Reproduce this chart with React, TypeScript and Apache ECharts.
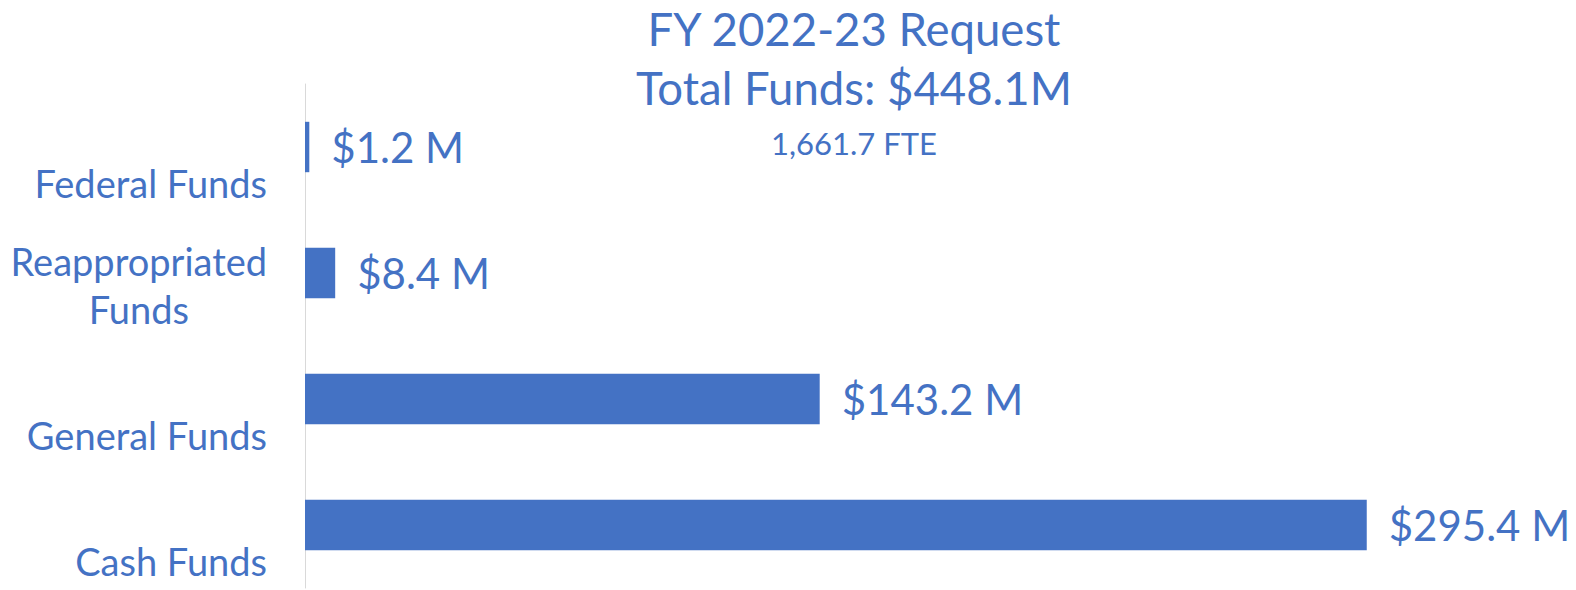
import React, { useEffect, useRef } from "react";
import * as echarts from "echarts";

const categories = ["Federal Funds", "Reappropriated Funds", "General Funds", "Cash Funds"];
const values = [1.2, 8.4, 143.2, 295.4];
const titleLines = ["FY 2022-23 Request", "Total Funds: $448.1M"];
const subtitle = "1,661.7 FTE";

const BLUE = "#4472C4";
const FONT = "Lato, 'Open Sans', sans-serif";

function wrapLabel(v: string): string {
  if (v.length > 15) {
    const parts = v.split(" ");
    return parts.map((p) => "{c|" + p + "}").join("\n");
  }
  return "\n{c|" + v + "}";
}

export default function App() {
  const ref = useRef<HTMLDivElement>(null);
  useEffect(() => {
    if (!ref.current) return;
    const chart = echarts.init(ref.current, undefined, { renderer: "svg" });
    chart.setOption({
      animation: false,
      backgroundColor: "#ffffff",
      title: [
        {
          text: titleLines.join("\n"),
          left: 854,
          top: -1,
          textAlign: "center",
          padding: 0,
          textStyle: {
            color: BLUE,
            fontFamily: FONT,
            fontWeight: "normal",
            fontSize: 45.5,
            lineHeight: 59,
          },
        },
        {
          text: subtitle,
          left: 854,
          top: 127,
          textAlign: "center",
          padding: 0,
          textStyle: {
            color: BLUE,
            fontFamily: FONT,
            fontWeight: "normal",
            fontSize: 31,
            lineHeight: 32,
          },
        },
      ],
      grid: { left: 305, right: 13, top: 84, bottom: 2, containLabel: false },
      xAxis: {
        type: "value",
        min: 0,
        max: 350,
        show: false,
        splitLine: { show: false },
      },
      yAxis: {
        type: "category",
        inverse: true,
        data: categories,
        axisLine: { show: true, lineStyle: { color: "#d9d9d9", width: 1 } },
        axisTick: { show: false },
        splitLine: { show: false },
        axisLabel: {
          formatter: (v: string) => wrapLabel(v),
          align: "right",
          verticalAlign: "middle",
          margin: 38,
          padding: [24, 0, 0, 0],
          lineHeight: 48,
          fontSize: 38,
          fontFamily: FONT,
          color: BLUE,
          rich: {
            c: {
              align: "center",
              fontSize: 38,
              lineHeight: 48,
              fontFamily: FONT,
              color: BLUE,
            },
          },
        },
      },
      series: [
        {
          type: "bar",
          data: values,
          barCategoryGap: "60%",
          itemStyle: { color: BLUE },
          label: {
            show: true,
            position: "right",
            distance: 22,
            formatter: (p: any) => "$" + Number(p.value).toFixed(1) + " M",
            color: BLUE,
            fontSize: 42,
            fontFamily: FONT,
          },
        },
      ],
    });
    return () => chart.dispose();
  }, []);
  return (
    <div
      ref={ref}
      style={{ position: "fixed", left: 0, top: 0, width: 1576, height: 590, background: "#fff" }}
    />
  );
}
